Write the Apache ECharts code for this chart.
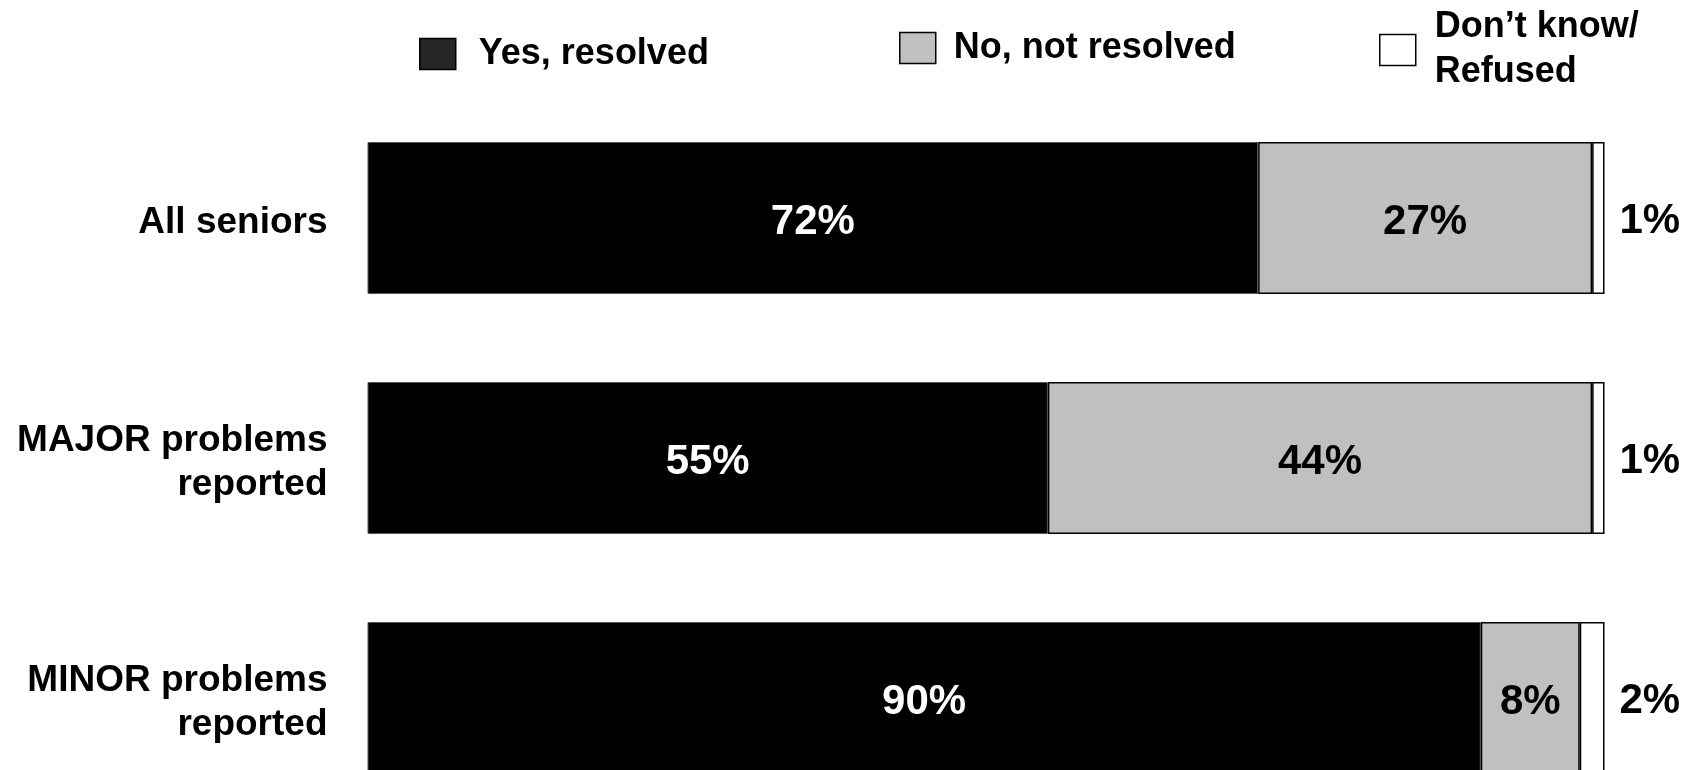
<!DOCTYPE html>
<html>
<head>
<meta charset="utf-8">
<script src="https://cdn.jsdelivr.net/npm/echarts@6/dist/echarts.min.js"></script>
<style>
html,body{margin:0;padding:0;background:#fff;overflow:hidden;}
#c{width:1696px;height:770px;}
</style>
</head>
<body>
<div id="c"></div>
<script>
const categories = ['All seniors', 'MAJOR problems\nreported', 'MINOR problems\nreported'];
const seriesNames = ['Yes, resolved', 'No, not resolved', 'Don’t know/\nRefused'];
const yesResolved = [72, 55, 90];
const notResolved = [27, 44, 8];
const dontKnow = [1, 1, 2];

const FONT = '"Liberation Sans", Arial, sans-serif';
const chart = echarts.init(document.getElementById('c'), null, {renderer: 'canvas'});

function legendCfg(name, left, top, iconColor, padLeft, lh) {
  return {
    data: [{name: name, itemStyle: {color: iconColor, borderColor: '#000', borderWidth: 1.5}}],
    left: left, top: top, orient: 'horizontal', padding: 0,
    icon: 'rect', itemWidth: 36, itemHeight: 31,
    selectedMode: false,
    textStyle: {fontFamily: FONT, fontWeight: 'bold', fontSize: 36, color: '#000', lineHeight: lh, padding: [0, 0, 0, padLeft]}
  };
}

chart.setOption({
  animation: false,
  backgroundColor: '#fff',
  legend: [
    legendCfg(seriesNames[0], 419, 36, '#262626', 18, 35),
    legendCfg(seriesNames[1], 899, 30, '#c0c0c0', 13, 35),
    legendCfg(seriesNames[2], 1379, 5, '#ffffff', 14, 45)
  ],
  grid: {left: 367.5, top: 98, width: 1237, height: 720, containLabel: false, outerBoundsMode: 'none'},
  xAxis: {type: 'value', min: 0, max: 100, show: false},
  yAxis: {
    type: 'category', data: categories, inverse: true,
    axisLine: {show: false}, axisTick: {show: false}, splitLine: {show: false},
    axisLabel: {
      margin: 40, align: 'right', padding: [9, 0, 0, 0],
      formatter: function (v) { return v.split('\n').map(function (s) { return '{t|' + s + '}'; }).join('\n'); },
      rich: {t: {fontFamily: FONT, fontWeight: 'bold', fontSize: 37, color: '#000', lineHeight: 44, align: 'right'}}
    }
  },
  series: [
    {
      name: seriesNames[0], type: 'bar', stack: 'a', data: yesResolved, barWidth: 152,
      itemStyle: {color: '#000', borderColor: '#555', borderWidth: 1},
      label: {show: true, position: 'inside', offset: [0, 4], formatter: '{c}%', color: '#fff', fontFamily: FONT, fontWeight: 'bold', fontSize: 42}
    },
    {
      name: seriesNames[1], type: 'bar', stack: 'a', data: notResolved, barWidth: 152,
      itemStyle: {color: '#c0c0c0', borderColor: '#000', borderWidth: 1.5},
      label: {show: true, position: 'inside', offset: [0, 4], formatter: '{c}%', color: '#000', fontFamily: FONT, fontWeight: 'bold', fontSize: 42}
    },
    {
      name: seriesNames[2], type: 'bar', stack: 'a', data: dontKnow, barWidth: 152,
      itemStyle: {color: '#fff', borderColor: '#000', borderWidth: 1.5},
      label: {show: true, position: 'right', distance: 15, offset: [0, 3], formatter: '{c}%', color: '#000', fontFamily: FONT, fontWeight: 'bold', fontSize: 42}
    }
  ]
});
</script>
</body>
</html>
